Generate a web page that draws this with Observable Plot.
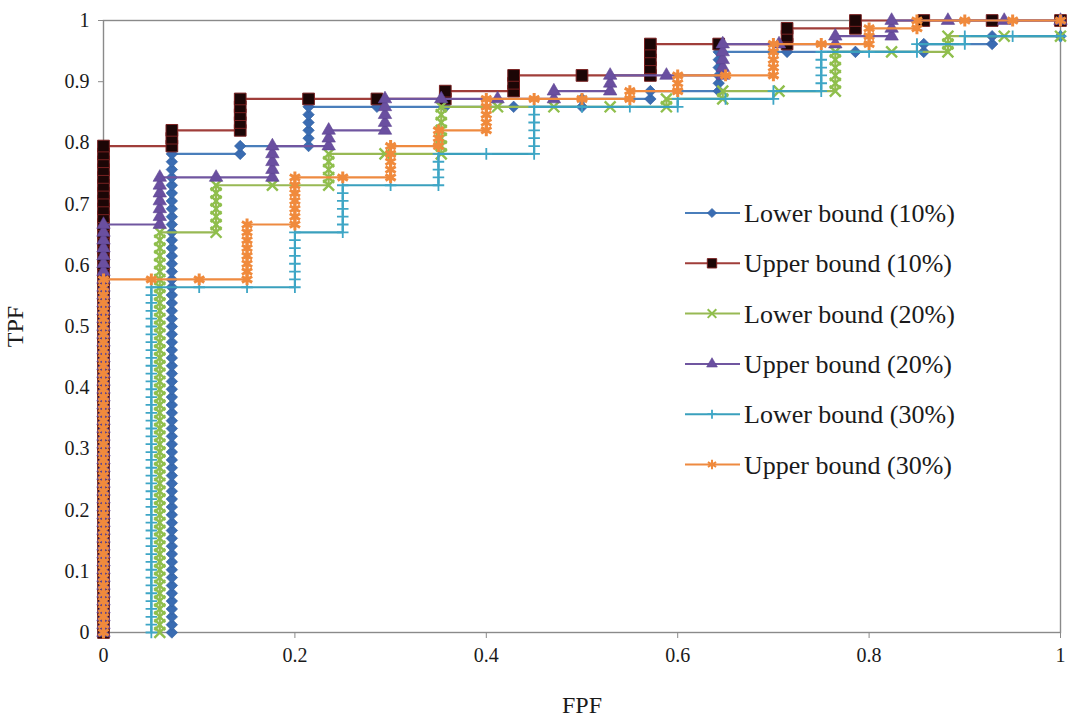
<!DOCTYPE html>
<html><head><meta charset="utf-8">
<script src="https://cdn.jsdelivr.net/npm/d3@7"></script>
<script src="https://cdn.jsdelivr.net/npm/@observablehq/plot@0.6"></script>
<style>
body{margin:0;background:#fff}
svg{display:block}
svg, svg text{font-family:"Liberation Serif","Times New Roman",serif !important}
</style>
</head><body><div id="chart"></div>
<script>
// Number of positives (TPF = count / N_POS); negatives per series (FPF = index / negatives)
const N_POS = 78;
const seriesNames = ["Lower bound (10%)","Upper bound (10%)","Lower bound (20%)","Upper bound (20%)","Lower bound (30%)","Upper bound (30%)"];
const negCounts = [14,14,17,17,20,20];

// Each entry: [false-positive index, true-positive counts at that index ...]
const lower10 = [
  [1,0,1,2,3,4,5,6,7,8,9,10,11,12,13,14,15,16,17,18,19,20,21,22,23,24,25,26,27,28,29,30,31,32,33,34,35,36,37,38,39,40,41,42,43,44,45,46,47,48,49,50,51,52,53,54,55,56,57,58,59,60,61],
  [2,61,62],[3,62,63,64,65,66,67],[4,67],[5,67],[6,67],[7,67,68],[8,68,69],
  [9,69,70,71,72,73,74],[10,74],[11,74],[12,74,75],[13,75,76],[14,76]
];
const upper10 = [
  [0,0,1,2,3,4,5,6,7,8,9,10,11,12,13,14,15,16,17,18,19,20,21,22,23,24,25,26,27,28,29,30,31,32,33,34,35,36,37,38,39,40,41,42,43,44,45,46,47,48,49,50,51,52,53,54,55,56,57,58,59,60,61,62],
  [1,62,63,64],[2,64,65,66,67,68],[3,68],[4,68],[5,68,69],[6,69,70,71],[7,71],
  [8,71,72,73,74,75],[9,75],[10,75,76,77],[11,77,78],[12,78],[13,78],[14,78]
];
const lower20 = [
  [1,0,1,2,3,4,5,6,7,8,9,10,11,12,13,14,15,16,17,18,19,20,21,22,23,24,25,26,27,28,29,30,31,32,33,34,35,36,37,38,39,40,41,42,43,44,45,46,47,48,49,50,51],
  [2,51,52,53,54,55,56,57],[3,57],[4,57,58,59,60,61],[5,61],[6,61,62,63,64,65,66,67],
  [7,67],[8,67],[9,67],[10,67,68],[11,68,69],[12,69],[13,69,70,71,72,73,74],[14,74],
  [15,74,75,76],[16,76],[17,76]
];
const upper20 = [
  [0,0,1,2,3,4,5,6,7,8,9,10,11,12,13,14,15,16,17,18,19,20,21,22,23,24,25,26,27,28,29,30,31,32,33,34,35,36,37,38,39,40,41,42,43,44,45,46,47,48,49,50,51,52],
  [1,52,53,54,55,56,57,58],[2,58],[3,58,59,60,61,62],[4,62,63,64],[5,64,65,66,67,68],
  [6,68],[7,68],[8,68,69],[9,69,70,71],[10,71],[11,71,72,73,74,75],[12,75],[13,75,76],
  [14,76,77,78],[15,78],[16,78],[17,78]
];
const lower30 = [
  [1,0,1,2,3,4,5,6,7,8,9,10,11,12,13,14,15,16,17,18,19,20,21,22,23,24,25,26,27,28,29,30,31,32,33,34,35,36,37,38,39,40,41,42,43,44],
  [2,44],[3,44],[4,44,45,46,47,48,49,50,51],[5,51,52,53,54,55,56,57],[6,57],[7,57,58,59,60,61],
  [8,61],[9,61,62,63,64,65,66,67],[10,67],[11,67],[12,67,68],[13,68],[14,68,69],
  [15,69,70,71,72,73,74],[16,74],[17,74,75],[18,75,76],[19,76],[20,76]
];
const upper30 = [
  [0,0,1,2,3,4,5,6,7,8,9,10,11,12,13,14,15,16,17,18,19,20,21,22,23,24,25,26,27,28,29,30,31,32,33,34,35,36,37,38,39,40,41,42,43,44,45],
  [1,45],[2,45],[3,45,46,47,48,49,50,51,52],[4,52,53,54,55,56,57,58],[5,58],[6,58,59,60,61,62],
  [7,62,63,64],[8,64,65,66,67,68],[9,68],[10,68],[11,68,69],[12,69,70,71],[13,71],
  [14,71,72,73,74,75],[15,75],[16,75,76,77],[17,77,78],[18,78],[19,78],[20,78]
];
const xTicks = [0,0.2,0.4,0.6,0.8,1];
const yTicks = [0,0.1,0.2,0.3,0.4,0.5,0.6,0.7,0.8,0.9,1];

const allSeries = [lower10, upper10, lower20, upper20, lower30, upper30];
const styles = [
  {symbol:"diamond2", r:5.2, fill:"#3a6cb2", stroke:"#2f5f9f", sw:0.6, line:"#4a7ebb"},
  {symbol:"square",   r:6.6, fill:"#1c0606", stroke:"#7a2222", sw:1,   line:"#a03e3a"},
  {symbol:"times",    r:5.0, fill:"none",    stroke:"#8fbf4c", sw:2.4, line:"#98b954"},
  {symbol:"triangle", r:5.0, fill:"#6a4fa0", stroke:"#5e4592", sw:0.6, line:"#7056a0"},
  {symbol:"plus",     r:3.8, fill:"none",    stroke:"#3ea6c6", sw:1.8, line:"#3aa0bd"},
  {symbol:"asterisk", r:5.6, fill:"none",    stroke:"#f08a3c", sw:3,   line:"#ee8a40"}
];

const rows = [];
allSeries.forEach((cols, si) => cols.forEach(([fp, ...tps]) =>
  tps.forEach(tp => rows.push({s: seriesNames[si], fpf: fp / negCounts[si], tpf: tp / N_POS}))));

const seriesMarks = seriesNames.flatMap((name, i) => {
  const d = rows.filter(r => r.s === name), st = styles[i];
  return [
    Plot.line(d, {x: "fpf", y: "tpf", stroke: st.line, strokeWidth: 2.2}),
    Plot.dot(d, {x: "fpf", y: "tpf", symbol: st.symbol, r: st.r, fill: st.fill, stroke: st.stroke, strokeWidth: st.sw})
  ];
});

const fmt = d => String(d);
const chart = Plot.plot({
  width: 1069, height: 719,
  marginLeft: 103, marginRight: 9, marginTop: 20, marginBottom: 87,
  style: {fontFamily: '"Liberation Serif","Times New Roman",serif', background: "#fff"},
  x: {domain: [0, 1]},
  y: {domain: [0, 1]},
  marks: [
    Plot.frame({stroke: "#8a8a8a", strokeWidth: 1.4}),
    Plot.axisX({ticks: xTicks, tickFormat: fmt, tickSize: 6, tickPadding: 9, fontSize: 20, stroke: "#8a8a8a", fill: "#1a1a1a", label: null}),
    Plot.axisY({ticks: yTicks, tickFormat: fmt, tickSize: 5, tickPadding: 9, fontSize: 20, stroke: "#8a8a8a", fill: "#1a1a1a", label: null}),
    ...seriesMarks,
    Plot.text(["FPF"], {frameAnchor: "bottom", lineAnchor: "middle", textAnchor: "middle", dy: 73, fontSize: 24, fill: "#1a1a1a"}),
    Plot.text(["TPF"], {frameAnchor: "left", lineAnchor: "middle", textAnchor: "middle", dx: -88, rotate: -90, fontSize: 24, fill: "#1a1a1a"})
  ]
});
document.getElementById("chart").appendChild(chart);

// Legend inside the plot area
const symMap = {diamond2: d3.symbolDiamond2, square: d3.symbolSquare, times: d3.symbolTimes,
  triangle: d3.symbolTriangle, plus: d3.symbolPlus, asterisk: d3.symbolAsterisk};
const svg = d3.select(chart);
const lg = svg.append("g");
seriesNames.forEach((name, i) => {
  const st = styles[i], y = 213 + i * 50.3, rr = st.r * 0.8;
  lg.append("line").attr("x1", 685).attr("x2", 740).attr("y1", y).attr("y2", y)
    .attr("stroke", st.line).attr("stroke-width", 2);
  lg.append("path").attr("transform", `translate(712,${y})`)
    .attr("d", d3.symbol(symMap[st.symbol], Math.PI * rr * rr)())
    .attr("fill", st.fill).attr("stroke", st.stroke).attr("stroke-width", Math.min(st.sw, 2));
  lg.append("text").attr("x", 744).attr("y", y).attr("dy", "0.35em")
    .attr("text-anchor", "start")
    .attr("font-size", 26).attr("fill", "#1a1a1a").text(name);
});
</script></body></html>
